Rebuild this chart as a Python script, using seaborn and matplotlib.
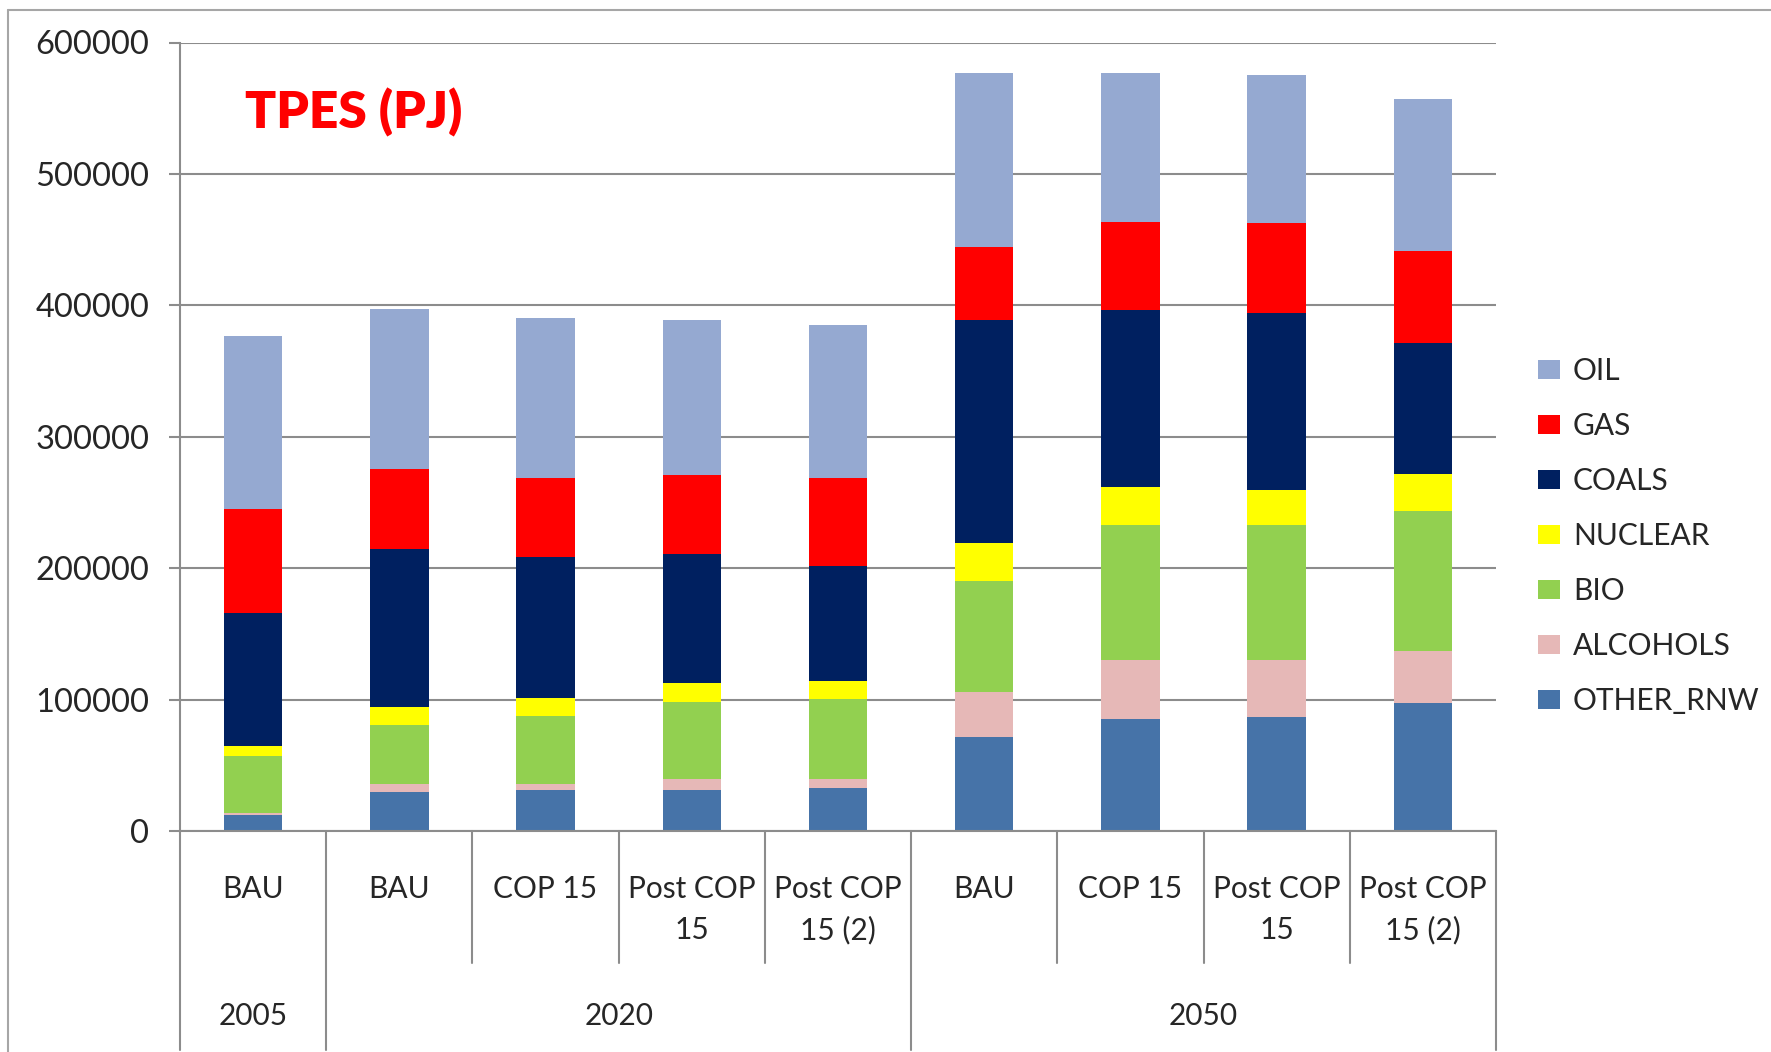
import numpy as np
import pandas as pd
import matplotlib
matplotlib.use("Agg")
import matplotlib.pyplot as plt
import matplotlib.transforms as mtransforms
from matplotlib.lines import Line2D
import seaborn as sns

# chart data (PJ)
years = ["2005", "2020", "2020", "2020", "2020", "2050", "2050", "2050", "2050"]
scenarios = ["BAU", "BAU", "COP 15", "Post COP\n15", "Post COP\n15 (2)",
             "BAU", "COP 15", "Post COP\n15", "Post COP\n15 (2)"]

other_rnw = [12500, 29900, 31500, 31500, 32900, 71300, 85100, 86600, 97300]
alcohols = [1100, 5500, 3900, 7700, 6300, 34400, 44800, 43300, 39500]
bio = [43800, 45600, 52400, 59200, 60900, 84300, 102700, 102700, 106500]
nuclear = [7600, 13100, 13100, 14400, 14400, 28800, 29100, 26800, 28700]
coals = [101100, 120200, 107900, 97700, 87500, 169700, 134500, 134500, 99600]
gas = [78600, 60900, 59600, 60100, 66400, 55600, 67000, 68600, 69400]
oil = [131600, 121800, 121800, 118000, 116400, 132900, 113800, 113000, 115700]

series_names = ["OTHER_RNW", "ALCOHOLS", "BIO", "NUCLEAR", "COALS", "GAS", "OIL"]
series_values = [other_rnw, alcohols, bio, nuclear, coals, gas, oil]
series_colors = ["#4673A8", "#E6B8B7", "#92D050", "#FFFF00", "#002060", "#FF0000", "#95A9D1"]

keys = [f"{y} {s}" for y, s in zip(years, scenarios)]
df = pd.DataFrame({"key": keys})
running = np.zeros(len(keys))
for name, vals in zip(series_names, series_values):
    running = running + np.array(vals)
    df[name] = running.copy()

sns.set_style("white")
plt.rcParams['font.family'] = ['Lato', 'DejaVu Sans']

gray = "#8c8c8c"
fig = plt.figure(figsize=(17.71, 10.52), dpi=100)
ax = fig.add_axes([180 / 1771, 1 - 831 / 1052, (1496 - 180) / 1771, (831 - 42.5) / 1052])

# stacked bars: draw cumulative totals from the top series down
for name, color in zip(series_names[::-1], series_colors[::-1]):
    sns.barplot(data=df, x="key", y=name, order=keys, color=color, saturation=1,
                width=0.4, linewidth=0, errorbar=None, label=name, ax=ax)
if ax.get_legend() is not None:
    ax.get_legend().remove()

ax.set_xlim(-0.5, len(keys) - 0.5)
ax.set_ylim(0, 600000)
ax.set_yticks(np.arange(0, 600001, 100000))
ax.set_yticklabels([str(v) for v in range(0, 600001, 100000)], fontsize=23.5)
ax.set_xticks([])
ax.set_xlabel("")
ax.set_ylabel("")
ax.set_axisbelow(True)
ax.yaxis.grid(True, color=gray, linewidth=1.5)
ax.tick_params(axis="y", length=8, width=1.5, color=gray, pad=14, left=True)
for side in ["top", "right"]:
    ax.spines[side].set_visible(False)
for side in ["left", "bottom"]:
    ax.spines[side].set_color(gray)
    ax.spines[side].set_linewidth(1.5)

# two-level category axis
trans = mtransforms.blended_transform_factory(ax.transData, ax.transAxes)
for i in range(len(keys) + 1):
    x = i - 0.5
    low = -0.2777 if i in (0, 1, 5, 9) else -0.1674
    ax.plot([x, x], [0, low], transform=trans, clip_on=False, color=gray, lw=1.5)
for i, s in enumerate(scenarios):
    ax.text(i, -0.056, s, transform=trans, ha="center", va="top", fontsize=21.5,
            linespacing=1.55)
group_names = ["2005", "2020", "2050"]
group_centers = [0, 2.5, 6.5]
for g, c in zip(group_names, group_centers):
    ax.text(c, -0.235, g, transform=trans, ha="center", va="center", fontsize=21.5)

ax.text(245 / 1771, 1 - 112 / 1052, "TPES (PJ)", transform=fig.transFigure,
        color="#FF0000", fontsize=37, fontweight="heavy", va="center", ha="left")

handles, labels = ax.get_legend_handles_labels()
fig.legend(handles, labels, loc="center left", bbox_to_anchor=(1538 / 1771, 1 - 536 / 1052),
           frameon=False, fontsize=21.5, handlelength=0.72, handleheight=0.6,
           handletextpad=0.45, labelspacing=0.9, borderpad=0, borderaxespad=0)

# outer chart frame (left and top edges visible in the reference)
fig.add_artist(Line2D([8 / 1771, 8 / 1771], [0, 1 - 10 / 1052], transform=fig.transFigure,
                      color="#a6a6a6", lw=1.5))
fig.add_artist(Line2D([8 / 1771, 1], [1 - 10 / 1052, 1 - 10 / 1052], transform=fig.transFigure,
                      color="#a6a6a6", lw=1.5))

fig.savefig("out.png", dpi=100)
